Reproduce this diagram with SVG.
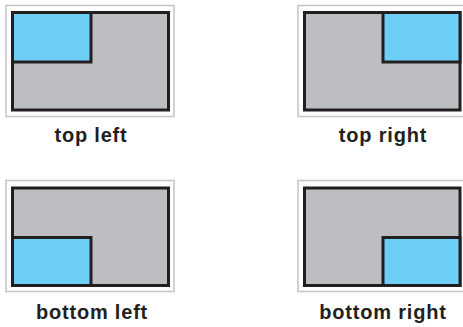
<svg xmlns="http://www.w3.org/2000/svg" width="463" height="327" viewBox="0 0 463 327">
<style>
.frame{fill:#ffffff;stroke:#c4c4c4;stroke-width:1.5}
.screen{fill:#bdbec2;stroke:#231f20;stroke-width:3}
.win{fill:#6dcff6;stroke:#231f20;stroke-width:3}
.lbl{font-family:"Liberation Sans",Arial,sans-serif;font-weight:bold;font-size:20px;letter-spacing:0.8px;fill:#231f20;text-anchor:middle}
</style>
<rect width="463" height="327" fill="#ffffff"/>
<g id="top-left">
<rect class="frame" x="6" y="5.5" width="168" height="111"/>
<rect class="screen" x="12.5" y="12.5" width="156" height="97.5"/>
<rect class="win" x="12.5" y="12.5" width="78.5" height="49.5"/>
<text class="lbl" x="91" y="142">top left</text>
</g>
<g id="top-right">
<rect class="frame" x="298" y="5.5" width="170" height="111"/>
<rect class="screen" x="304.5" y="12.5" width="155.5" height="97.5"/>
<rect class="win" x="383" y="12.5" width="77" height="49.5"/>
<text class="lbl" x="383" y="142">top right</text>
</g>
<g id="bottom-left">
<rect class="frame" x="6" y="180.5" width="168" height="111"/>
<rect class="screen" x="12.5" y="188" width="156" height="97.5"/>
<rect class="win" x="12.5" y="237.5" width="78.5" height="48"/>
<text class="lbl" x="92" y="319">bottom left</text>
</g>
<g id="bottom-right">
<rect class="frame" x="298" y="180.5" width="170" height="111"/>
<rect class="screen" x="304.5" y="188" width="155.5" height="97.5"/>
<rect class="win" x="383" y="237.5" width="77" height="48"/>
<text class="lbl" x="383" y="319">bottom right</text>
</g>
<g id="connectors"></g>
</svg>
